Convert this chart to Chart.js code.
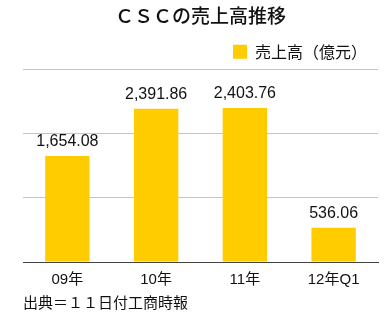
<!DOCTYPE html>
<html>
<head>
<meta charset="utf-8">
<script src="https://cdn.jsdelivr.net/npm/chart.js@4"></script>
<style>
  html, body { margin: 0; padding: 0; background: #fff; }
  #wrap { width: 384px; height: 314px; }
</style>
</head>
<body>
<div id="wrap"><canvas id="salesChart"></canvas></div>
<script>
const periods = ['09年', '10年', '11年', '12年Q1'];
const sales = [1654.08, 2391.86, 2403.76, 536.06];
const salesLabels = ['1,654.08', '2,391.86', '2,403.76', '536.06'];

const cjkFont = '"Noto Sans CJK JP", "Noto Sans", sans-serif';
const mixFont = '"Liberation Sans", "Noto Sans CJK JP", sans-serif';

// value labels above each bar
const barValueLabels = {
    id: 'barValueLabels',
    afterDatasetsDraw(chart) {
        const ctx = chart.ctx;
        const meta = chart.getDatasetMeta(0);
        ctx.save();
        ctx.font = '16px ' + mixFont;
        ctx.fillStyle = '#111';
        ctx.textAlign = 'center';
        ctx.textBaseline = 'bottom';
        meta.data.forEach((bar, i) => {
            ctx.fillText(salesLabels[i], bar.x, bar.y - 6);
        });
        ctx.restore();
    }
};

new Chart(document.getElementById('salesChart'), {
    type: 'bar',
    data: {
        labels: periods,
        datasets: [{
            label: '売上高（億元）',
            data: sales,
            backgroundColor: '#ffcc00',
            barPercentage: 0.5,
            categoryPercentage: 1.0
        }]
    },
    options: {
        responsive: true,
        maintainAspectRatio: false,
        animation: false,
        layout: { padding: { left: 23, right: 6, top: 0, bottom: 3 } },
        plugins: {
            title: {
                display: true,
                text: 'ＣＳＣの売上高推移',
                color: '#111',
                font: { family: cjkFont, size: 19, weight: 500 },
                padding: { top: 4, bottom: 6 }
            },
            subtitle: {
                display: true,
                position: 'bottom',
                align: 'start',
                text: '出典＝１１日付工商時報',
                color: '#111',
                font: { family: cjkFont, size: 15 },
                padding: { top: 3, bottom: 0 }
            },
            legend: {
                position: 'top',
                align: 'end',
                labels: {
                    boxWidth: 14,
                    boxHeight: 14,
                    padding: 11,
                    color: '#111',
                    font: { family: cjkFont, size: 16 }
                }
            },
            tooltip: { enabled: false }
        },
        scales: {
            x: {
                grid: { display: false },
                border: { color: '#444', width: 1 },
                ticks: {
                    color: '#111',
                    font: { family: mixFont, size: 15 },
                    padding: 1
                }
            },
            y: {
                min: 0,
                max: 3000,
                ticks: { display: false, stepSize: 1000 },
                grid: { color: '#c4c4c4', drawTicks: false },
                border: { display: false }
            }
        }
    },
    plugins: [barValueLabels]
});
</script>
</body>
</html>
